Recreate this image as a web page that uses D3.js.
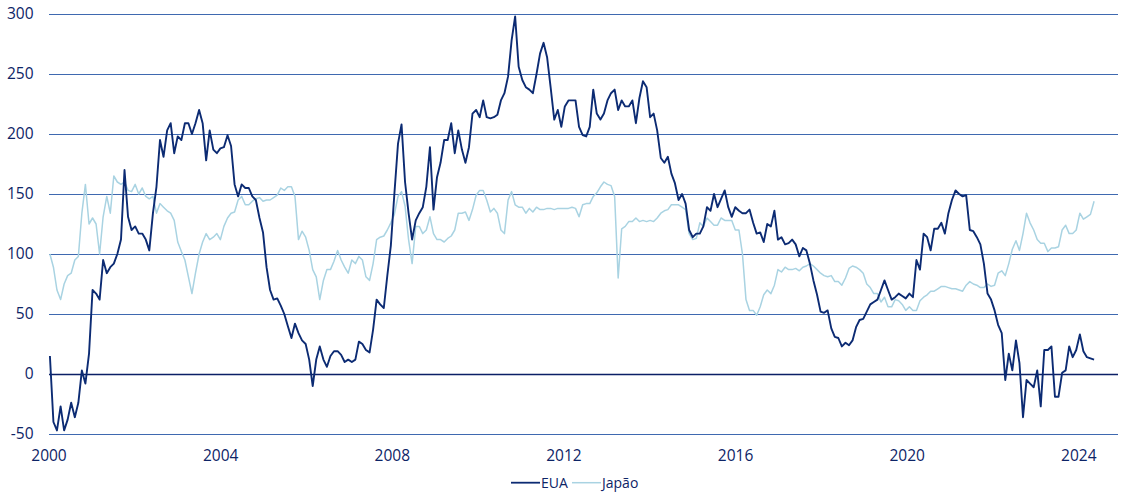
<!DOCTYPE html>
<html>
<head>
<meta charset="utf-8">
<script src="https://cdn.jsdelivr.net/npm/d3@7"></script>
<style>
  html, body { margin: 0; padding: 0; background: #ffffff; }
  svg { display: block; }
  text { font-family: "Open Sans", "Noto Sans", sans-serif; fill: #0d2466; }
</style>
</head>
<body>
<svg id="chart" width="1125" height="496"></svg>
<script>
// ---- data (approximately one reading every ~30 days, Jan 2000 – May 2024) ----
const seriesNames = ["EUA", "Japão"];
const yTicks = [-50, 0, 50, 100, 150, 200, 250, 300];
const xTickYears = [2000, 2004, 2008, 2012, 2016, 2020, 2024];

const eua = [
  15,-40,-47,-27,-47,-38,-24,-36,-24,3,-8,17,
  70,67,62,95,84,89,92,100,112,170,131,120,
  123,117,117,112,103,134,156,195,181,203,209,184,
  198,195,209,209,200,209,220,209,178,203,187,184,
  188,189,199,190,158,148,158,155,155,148,145,130,
  118,89,70,62,63,57,50,40,30,42,34,28,
  25,12,-10,12,23,12,6,15,19,19,16,10,
  12,10,12,27,25,20,18,37,62,58,55,82,
  107,150,192,208,160,134,112,128,134,139,156,189,
  137,164,176,195,195,209,184,203,187,176,189,217,
  220,214,228,214,213,214,216,228,234,248,278,298,
  256,245,239,237,234,250,267,276,264,239,212,220,
  206,223,228,228,228,206,199,198,206,237,217,212,
  217,228,234,237,220,228,223,223,228,209,230,244,
  239,214,217,203,180,176,181,167,159,145,150,142,
  120,114,117,117,123,139,136,150,139,146,153,139,
  131,139,136,134,134,137,126,117,118,110,125,123,
  136,112,114,108,109,112,108,98,105,103,92,78,
  66,52,51,53,38,31,30,23,26,24,28,39,
  45,46,52,58,60,62,70,78,70,62,64,67,
  65,63,67,64,95,87,117,114,103,121,121,126,
  117,134,145,153,150,148,149,120,119,114,108,92,
  67,62,53,41,34,-5,17,3,28,9,-36,-5,
  -8,-11,3,-27,20,20,23,-19,-19,1,3,23,
  14,20,33,19,14,13,12
];

const japao = [
  100,89,70,62,75,82,84,95,98,134,158,125,
  130,125,100,131,148,134,165,160,158,160,153,152,
  158,150,155,148,146,148,134,142,139,136,134,128,
  110,102,95,81,67,84,100,110,117,112,114,117,
  112,123,130,134,135,145,148,141,141,144,146,147,
  144,145,145,147,149,155,153,156,156,148,112,119,
  114,103,87,81,62,78,87,87,94,103,95,89,
  84,95,92,98,95,81,78,92,112,114,115,120,
  126,133,148,152,140,112,92,123,123,117,120,131,
  117,112,112,110,113,115,120,134,134,135,128,137,
  149,153,153,145,135,138,134,120,117,145,152,141,
  139,139,134,138,135,139,137,137,138,138,137,138,
  138,138,138,139,138,131,141,142,142,148,151,156,
  160,158,157,148,80,121,123,127,127,130,127,128,
  127,128,127,130,134,136,137,141,141,141,139,137,
  117,112,113,126,123,130,127,124,124,130,128,128,
  128,120,120,100,62,53,53,49,56,66,70,67,
  74,87,85,89,87,87,88,86,89,90,92,90,
  87,84,82,81,82,77,77,74,80,88,90,89,
  87,84,75,72,67,67,60,64,56,56,62,61,
  58,53,56,53,53,61,64,66,69,69,71,73,
  73,72,71,71,70,69,74,77,75,74,72,72,
  75,73,74,84,86,82,92,104,111,103,117,134,
  126,120,112,109,109,102,105,105,106,120,124,117,
  117,120,134,129,131,133,144
];

// observation dates: first reading 13 Jan 2000, then every ~30 days
const dates = eua.map((_, i) => d3.timeDay.offset(new Date(2000, 0, 13), Math.round(i * 30.23)));

// ---- layout ----
const svg = d3.select("#chart");
const plotLeft = 49, plotRight = 1118;

const x = d3.scaleTime()
  .domain([new Date(2000, 0, 1), new Date(2024, 0, 1)])
  .range([48.5, 48.5 + 42.91 * 24]);
const y = d3.scaleLinear().domain([-50, 300]).range([434, 14]);

// gridlines
svg.append("g").selectAll("line")
  .data(yTicks)
  .join("line")
  .attr("x1", plotLeft).attr("x2", plotRight)
  .attr("y1", d => y(d) + 0.5).attr("y2", d => y(d) + 0.5)
  .attr("stroke", d => d === 0 ? "#0b1f66" : "#3f69b0")
  .attr("stroke-width", d => d === 0 ? 1.5 : 1.2);

// y axis labels
const yAxis = svg.append("g")
  .attr("transform", "translate(33.5,0)")
  .call(d3.axisLeft(y).tickValues(yTicks).tickSize(0).tickPadding(0).tickFormat(d => String(d)));
yAxis.select(".domain").remove();
yAxis.selectAll("text")
  .attr("font-size", "15.5px")
  .attr("font-family", "'Open Sans', 'Noto Sans', sans-serif")
  .attr("fill", "#0d2466");

// x axis labels
const xAxis = svg.append("g")
  .attr("transform", "translate(0,434)")
  .call(d3.axisBottom(x)
    .tickValues(xTickYears.map(yr => new Date(yr, 0, 1)))
    .tickSize(0)
    .tickFormat(d3.timeFormat("%Y")));
xAxis.select(".domain").remove();
xAxis.selectAll("text")
  .attr("y", 26.6).attr("dy", 0)
  .attr("font-size", "15.5px")
  .attr("font-family", "'Open Sans', 'Noto Sans', sans-serif")
  .attr("fill", "#0d2466");

// lines
const line = d3.line()
  .x((d, i) => x(dates[i]))
  .y(d => y(d));

svg.append("path")
  .datum(japao)
  .attr("fill", "none")
  .attr("stroke", "#a9d3e2")
  .attr("stroke-width", 1.5)
  .attr("stroke-linejoin", "round")
  .attr("d", line);

svg.append("path")
  .datum(eua)
  .attr("fill", "none")
  .attr("stroke", "#0c2b73")
  .attr("stroke-width", 1.9)
  .attr("stroke-linejoin", "round")
  .attr("d", line);

// legend
const legendColors = ["#0c2b73", "#a9d3e2"];
const legendX = [511, 572];
const legendY = 482.7;
const lg = svg.append("g");
seriesNames.forEach((name, i) => {
  lg.append("line")
    .attr("x1", legendX[i]).attr("x2", legendX[i] + 29)
    .attr("y1", legendY).attr("y2", legendY)
    .attr("stroke", legendColors[i])
    .attr("stroke-width", i === 0 ? 1.8 : 1.5);
  lg.append("text")
    .attr("x", legendX[i] + 30)
    .attr("y", legendY)
    .attr("dy", "0.35em")
    .attr("font-size", "14px")
    .attr("fill", "#0d2466")
    .text(name);
});
</script>
</body>
</html>
